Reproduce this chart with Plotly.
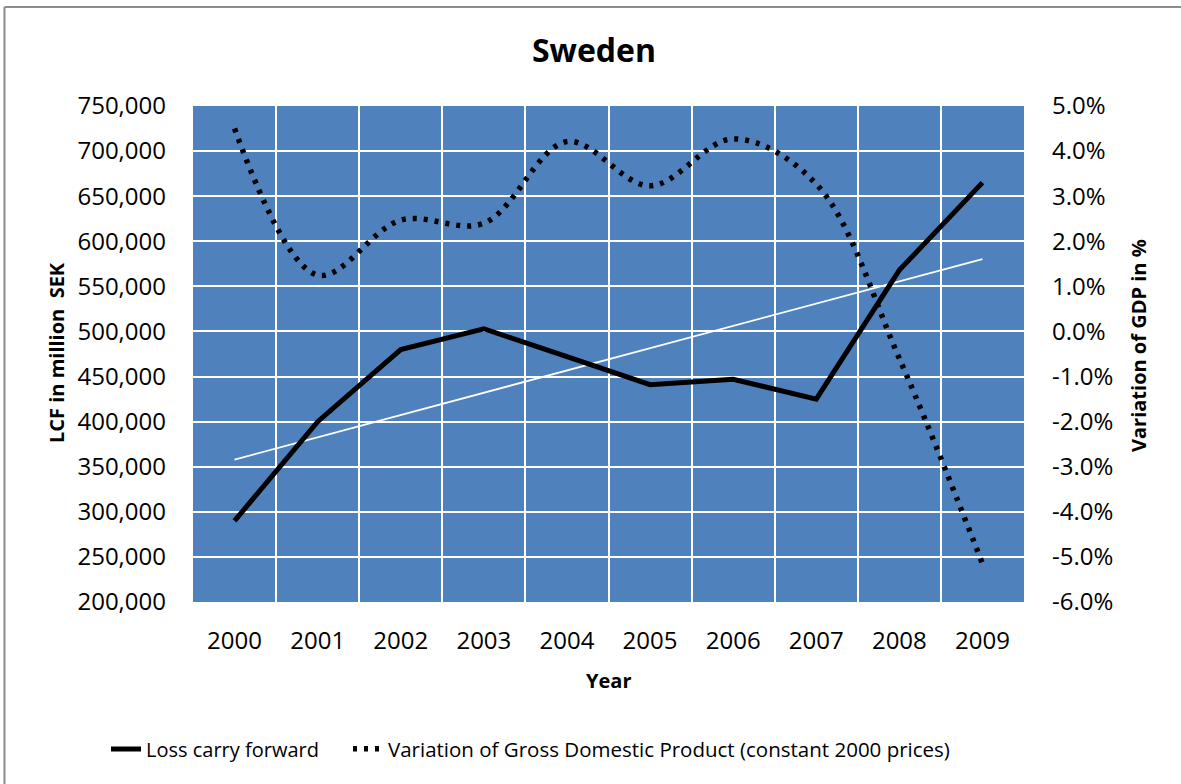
import numpy as np
import plotly.graph_objects as go

# ---- data ----
years = ["2000", "2001", "2002", "2003", "2004", "2005", "2006", "2007", "2008", "2009"]
lcf = [290000, 400000, 480000, 503000, 472000, 441000, 447000, 425000, 568000, 665000]
gdp_pct = [4.5, 1.25, 2.47, 2.4, 4.21, 3.23, 4.27, 3.27, -0.6, -5.15]
lcf_ticks = [200000, 250000, 300000, 350000, 400000, 450000, 500000,
             550000, 600000, 650000, 700000, 750000]
gdp_ticks = [-6, -5, -4, -3, -2, -1, 0, 1, 2, 3, 4, 5]

FONT = "Open Sans"
BLUE = "#4F81BD"

idx = list(range(len(years)))
# linear trendline of the LCF series (as Excel's trendline)
coef = np.polyfit(idx, lcf, 1)
trend = np.polyval(coef, idx)

fig = go.Figure()

fig.add_trace(go.Scatter(
    x=idx, y=trend, mode="lines", line=dict(color="white", width=1.8),
    showlegend=False, hoverinfo="skip", yaxis="y"))

fig.add_trace(go.Scatter(
    x=idx, y=lcf, mode="lines", name="Loss carry forward",
    line=dict(color="black", width=5), yaxis="y", legend="legend"))

fig.add_trace(go.Scatter(
    x=idx, y=gdp_pct, mode="lines",
    name="Variation of Gross Domestic Product (constant 2000 prices)",
    line=dict(color="black", width=5.5, dash="4px,7px", shape="spline", smoothing=1),
    yaxis="y2", legend="legend2"))

W, H = 1181, 784
L, R, T, B = 193, 157, 106, 182
pw, ph = W - L - R, H - T - B

def px_x(px):
    return (px - L) / pw

def px_y(py):
    return (H - B - py) / ph

fig.update_layout(
    width=W, height=H,
    margin=dict(l=L, r=R, t=T, b=B),
    paper_bgcolor="white",
    plot_bgcolor=BLUE,
    font=dict(family=FONT, size=24, color="black"),
    title=dict(text="<b>Sweden</b>", x=594 / W, xref="container", xanchor="center",
               y=1 - 51 / H, yref="container", yanchor="middle",
               font=dict(family=FONT, size=32, color="black")),
    xaxis=dict(
        range=[-0.5, len(years) - 0.5],
        tickmode="array", tickvals=idx, ticktext=years,
        showgrid=False, zeroline=False, showline=False,
        ticks="", ticklabelstandoff=22,
        minor=dict(tickmode="array", tickvals=[i + 0.5 for i in idx[:-1]],
                   showgrid=True, gridcolor="white", gridwidth=1.6, ticks=""),
        tickfont=dict(family=FONT, size=24),
    ),
    yaxis=dict(
        range=[lcf_ticks[0], lcf_ticks[-1]],
        tickmode="array", tickvals=lcf_ticks,
        ticktext=[f"{v:,}" for v in lcf_ticks],
        showgrid=True, gridcolor="white", gridwidth=1.6,
        zeroline=False, showline=False, ticks="", ticklabelstandoff=26,
        tickfont=dict(family=FONT, size=24),
    ),
    yaxis2=dict(
        range=[gdp_ticks[0], gdp_ticks[-1]],
        overlaying="y", side="right",
        tickmode="array", tickvals=gdp_ticks,
        ticktext=[f"{v:.1f}%" for v in gdp_ticks],
        showgrid=False, zeroline=False, showline=False, ticks="",
        ticklabelstandoff=27,
        tickfont=dict(family=FONT, size=24),
    ),
    legend=dict(orientation="h", x=px_x(106), xanchor="left",
                y=px_y(749), yanchor="middle",
                font=dict(family=FONT, size=20), bgcolor="rgba(0,0,0,0)"),
    legend2=dict(orientation="h", x=px_x(348), xanchor="left",
                 y=px_y(749), yanchor="middle",
                 font=dict(family=FONT, size=20.5), bgcolor="rgba(0,0,0,0)"),
    annotations=[
        dict(text="<b>Year</b>", xref="paper", yref="paper", x=0.5, y=px_y(680),
             xanchor="center", yanchor="middle", showarrow=False,
             font=dict(family=FONT, size=20)),
        dict(text="<b>LCF in million  SEK</b>", xref="paper", yref="paper",
             x=px_x(56), y=px_y(353), textangle=-90,
             xanchor="center", yanchor="middle", showarrow=False,
             font=dict(family=FONT, size=20)),
        dict(text="<b>Variation of GDP in %</b>", xref="paper", yref="paper",
             x=px_x(1138), y=px_y(346), textangle=-90,
             xanchor="center", yanchor="middle", showarrow=False,
             font=dict(family=FONT, size=20)),
    ],
    shapes=[
        dict(type="line", xref="paper", yref="paper",
             x0=px_x(4.5), x1=px_x(4.5), y0=px_y(7), y1=px_y(800),
             line=dict(color="#8c8c8c", width=2)),
        dict(type="line", xref="paper", yref="paper",
             x0=px_x(4.5), x1=px_x(1200), y0=px_y(7), y1=px_y(7),
             line=dict(color="#8c8c8c", width=2)),
    ],
    hovermode=False,
)

fig.write_html(
    "out.html",
    config={"displayModeBar": False},
    post_script=("document.body.style.margin='0';"
                 "document.body.style.overflow='hidden';"
                 "document.documentElement.style.overflow='hidden';"),
)
